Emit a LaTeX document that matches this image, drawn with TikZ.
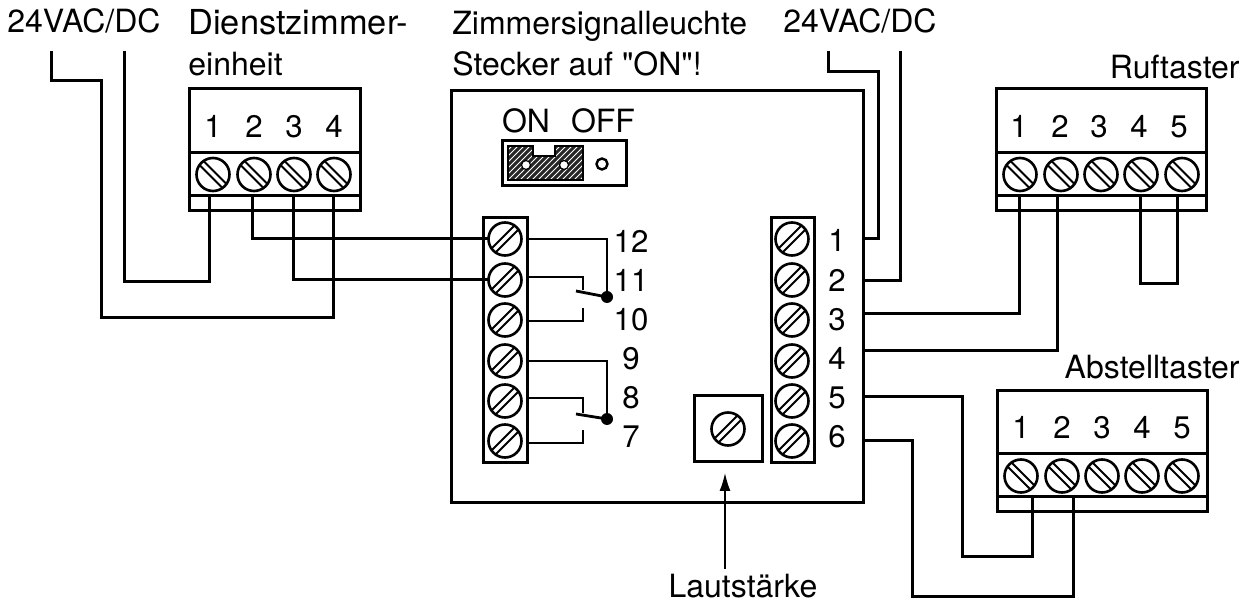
\documentclass[tikz,border=0pt]{standalone}
\usepackage{fontspec}
\setmainfont{TeX Gyre Heros}[Ligatures=TeXOff]
\usetikzlibrary{arrows.meta, patterns, calc, positioning}

\tikzset{
	wire/.style={line width=1.5pt, line join=miter},
	relay/.style={line width=1.4pt, line join=miter},
	box/.style={draw, line width=1.5pt, inner sep=0pt, outer sep=0pt, anchor=north west},
	divider/.style={line width=1.5pt},
	screw/.style={circle, draw, line width=1.3pt, fill=white, minimum size=16.5pt, inner sep=0pt, outer sep=0pt,
		path picture={
			\coordinate (pc) at (path picture bounding box.center);
			\draw[line width=0.95pt] ($(pc)+(#1:12pt)+(#1+90:1.4pt)$) -- ($(pc)+(#1+180:12pt)+(#1+90:1.4pt)$);
			\draw[line width=0.95pt] ($(pc)+(#1:12pt)+(#1-90:1.4pt)$) -- ($(pc)+(#1+180:12pt)+(#1-90:1.4pt)$);
		}},
	screw/.default=45,
	label/.style={inner sep=0pt, anchor=base, font=\fontsize{15.6pt}{18pt}\selectfont},
	caption/.style={inner sep=0pt, anchor=base west, font=\fontsize{16pt}{19pt}\selectfont},
}

\begin{document}
\begin{tikzpicture}[x=0.5pt, y=-0.5pt, line cap=butt]
	\useasboundingbox (0,0) rectangle (1255,604);

	% captions
	\node[caption] (supplyL) at (7,33) {24VAC/DC};
	\node[caption, font=\fontsize{17.2pt}{19pt}\selectfont] (dz1) at (188,35) {Dienstzimmer-};
	\node[caption] (dz2) at (188,76) {einheit};
	\node[caption] (zs1) at (452,35) {Zimmersignalleuchte};
	\node[caption] (zs2) at (452,76) {Stecker auf "ON"!};
	\node[caption] (supplyR) at (783,33) {24VAC/DC};
	\node[caption, anchor=base east] (ruf) at (1240,79) {Ruftaster};
	\node[caption, anchor=base east] (abst) at (1240,379) {Abstelltaster};
	\node[caption, anchor=base] (laut) at (743,598) {Lautstärke};

	% --- main housing ---
	\node[box, minimum width=206pt, minimum height=206pt] (main) at (451,91) {};

	% jumper
	\node[box, minimum width=62pt, minimum height=22.5pt] (jumper) at (502,141) {};
	\draw[line width=0.6pt, preaction={fill=black!85}, pattern=north east lines, pattern color=white]
		(508,146) -- (533,146) -- (533,156) -- (555,156) -- (555,146) -- (583,146) -- (583,180) -- (508,180) -- cycle;
	\node[circle, draw, fill=white, line width=0.6pt, minimum size=4.5pt, inner sep=0pt] (pin1) at (526,165) {};
	\node[circle, draw, fill=white, line width=0.6pt, minimum size=4.5pt, inner sep=0pt] (pin2) at (564,165) {};
	\node[circle, draw, fill=white, line width=1.2pt, minimum size=5.5pt, inner sep=0pt] (pin3) at (602,164) {};
	\node[label, font=\fontsize{16pt}{18pt}\selectfont] (on) at (526,133) {ON};
	\node[label, font=\fontsize{16pt}{18pt}\selectfont] (off) at (603,133) {OFF};

	% screw strips
	\node[box, minimum width=22pt, minimum height=122.5pt] (stripL) at (483,218) {};
	\node[box, minimum width=21.5pt, minimum height=122.5pt] (stripR) at (771,218) {};
	\foreach \n/\y/\ly in {12/239/253, 11/280/292, 10/320/331, 9/361/370, 8/401/409, 7/441/448}{
		\node[screw] (s\n) at (505,\y) {};
		\node[label] (ls\n) at (631,\ly) {\n};
	}
	\foreach \n/\y/\ly in {1/239/252, 2/280/292, 3/320/331, 4/361/370, 5/401/409, 6/441/448}{
		\node[screw] (r\n) at (792,\y) {};
		\node[label] (lr\n) at (837,\ly) {\n};
	}

	% volume trimmer
	\node[box, minimum width=34pt, minimum height=33pt] (vol) at (694,396) {};
	\node[screw] (volscrew) at (728,429) {};
	\coordinate (voltip) at (725,473);
	\coordinate (volfoot) at (725,569);
	\draw[line width=0.7pt, -{Latex[length=9pt, width=5.5pt]}] (volfoot) -- (voltip);

	% relay contacts
	\foreach \first/\dy/\nc/\lev/\noend/\no in {s12/297/277/290/308/321, s9/419/398/413/430/443}{
		\coordinate (dot) at (607,\dy);
		\fill (dot) circle (6);
		\draw[relay] (576,\lev+1) -- (dot);
		\draw[relay] (stripL.east |- \first) -| (dot);
		\draw[relay] (527,\nc) -| (583,\lev);
		\draw[relay] (527,\no) -| (583,\noend);
	}

	% --- Dienstzimmereinheit ---
	\begin{scope}[shift={(189,89)}]
		\node[box, minimum width=85.5pt, minimum height=61pt] (dzbox) at (0,0) {};
		\draw[divider] (0,64) -- (171,64);
		\draw[divider] (0,107) -- (171,107);
		\foreach \k/\sx/\fx in {1/24/20, 2/65/63, 3/105/104, 4/145/144}{
			\node[screw=-45] (dzs\k) at (\sx,85.5) {};
			\node[label] (dzl\k) at (\sx,49) {\k};
			\coordinate (dzw\k) at (\fx,107);
		}
	\end{scope}

	% --- Ruftaster ---
	\begin{scope}[shift={(996,89)}]
		\node[box, minimum width=105pt, minimum height=61pt] (rufbox) at (0,0) {};
		\draw[divider] (0,64) -- (210,64);
		\draw[divider] (0,107) -- (210,107);
		\foreach \k/\sx/\lx/\fx in {1/24/23/23, 2/65/64/61, 3/105/103/105, 4/145/143/144, 5/186/183/181}{
			\node[screw=-45] (rufs\k) at (\sx,85.5) {};
			\node[label] (rufl\k) at (\lx,49) {\k};
			\coordinate (rufw\k) at (\fx,107);
		}
	\end{scope}

	% --- Abstelltaster ---
	\begin{scope}[shift={(997,391)}]
		\node[box, minimum width=105pt, minimum height=60.5pt] (absbox) at (0,0) {};
		\draw[divider] (0,63) -- (210,63);
		\draw[divider] (0,106) -- (210,106);
		\foreach \k/\sx/\fx in {1/24/35, 2/65/76, 3/105/105, 4/145/145, 5/185/185}{
			\node[screw=-45] (abss\k) at (\sx,85) {};
			\node[label] (absl\k) at (\sx,48) {\k};
			\coordinate (absw\k) at (\fx,106);
		}
	\end{scope}

	% free ends of the supply wires
	\coordinate (vl1) at (51,51);
	\coordinate (vl2) at (124,51);
	\coordinate (vr1) at (828,51);
	\coordinate (vr2) at (900,51);

	% outputs on the housing edge
	\foreach \n/\y in {1/239, 2/281, 3/314, 4/351, 5/397, 6/441}{
		\coordinate (out\n) at (863,\y);
	}

	% wiring, left side
	\draw[wire] (vl1) |- (101,81) |- (333,318) -- (dzw4);
	\draw[wire] (vl2) |- (209,282) -- (dzw1);
	\draw[wire] (dzw2) |- (s12.west);
	\draw[wire] (dzw3) |- (s11.west);

	% wiring, right side
	\draw[wire] (vr1) |- (878,72) |- (out1);
	\draw[wire] (vr2) |- (out2);
	\draw[wire] (out3) -| (rufw1);
	\draw[wire] (out4) -| (rufw2);
	\draw[wire] (rufw4) |- (1177,284) -- (rufw5);
	\draw[wire] (out5) -| (962,557) -| (absw1);
	\draw[wire] (out6) -| (912,597) -| (absw2);
\end{tikzpicture}
\end{document}
